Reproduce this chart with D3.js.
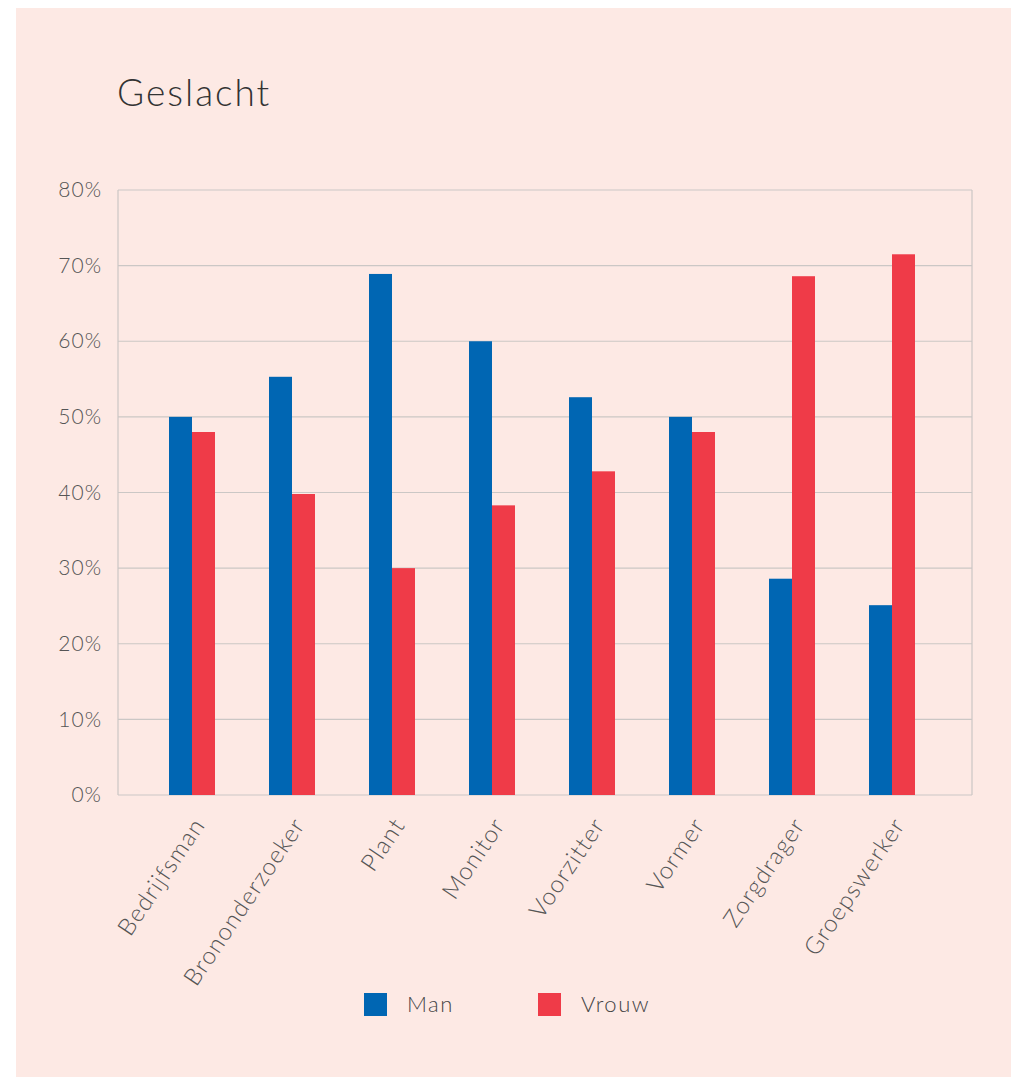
<!DOCTYPE html>
<html>
<head>
<meta charset="utf-8">
<script src="https://cdn.jsdelivr.net/npm/d3@7"></script>
<style>
  body { margin: 0; background: #fff; }
  svg { display: block; }
  text { font-family: "Lato", "Open Sans", sans-serif; }
</style>
</head>
<body>
<svg id="chart"></svg>
<script>
// data
let categories = ["Bedrijfsman", "Brononderzoeker", "Plant", "Monitor", "Voorzitter", "Vormer", "Zorgdrager", "Groepswerker"]
let man   = [50, 55.3, 68.9, 60, 52.6, 50, 28.6, 25.1]
let vrouw = [48, 39.8, 30, 38.3, 42.8, 48, 68.6, 71.5]
let series = ["Man", "Vrouw"]
let yTicks = [0, 10, 20, 30, 40, 50, 60, 70, 80]

let colors = { Man: "#0066b3", Vrouw: "#ef3b48" }

let svgWidth = 1011
let svgHeight = 1077

let svg = d3.select('#chart')
  .attr("width", svgWidth)
  .attr("height", svgHeight)

// pink panel
svg.append("rect")
  .attr("x", 16).attr("y", 8)
  .attr("width", svgWidth - 16).attr("height", svgHeight - 8)
  .attr("fill", "#fde9e4")

svg.append("text")
  .attr("x", 117).attr("y", 106)
  .attr("font-size", 37)
  .attr("font-weight", 300)
  .attr("letter-spacing", 2)
  .attr("fill", "#333")
  .text("Geslacht")

let plotLeft = 118, plotRight = 972, plotTop = 190, plotBottom = 795

let x = d3.scaleBand()
  .domain(categories)
  .range([142, 942])
  .paddingInner(0)

let y = d3.scaleLinear()
  .domain([0, 80])
  .range([plotBottom, plotTop])

// grid
svg.append("g")
  .selectAll("line")
  .data(yTicks)
  .enter()
  .append("line")
  .attr("x1", plotLeft).attr("x2", plotRight)
  .attr("y1", d => y(d)).attr("y2", d => y(d))
  .attr("stroke", "#cbc7c5")
  .attr("stroke-width", 1.2)

// frame sides
svg.append("line")
  .attr("x1", plotLeft).attr("x2", plotLeft)
  .attr("y1", plotTop).attr("y2", plotBottom)
  .attr("stroke", "#cbc7c5").attr("stroke-width", 1.2)
svg.append("line")
  .attr("x1", plotRight).attr("x2", plotRight)
  .attr("y1", plotTop).attr("y2", plotBottom)
  .attr("stroke", "#cbc7c5").attr("stroke-width", 1.2)

// y axis labels
let yAxis = d3.axisLeft(y).tickValues(yTicks).tickFormat(d => d + "%").tickSize(0).tickPadding(16)
let yg = svg.append("g").attr("transform", "translate(" + plotLeft + ",0)").call(yAxis)
yg.select(".domain").remove()
yg.selectAll("text")
  .attr("font-size", 21)
  .attr("font-weight", 300)
  .attr("letter-spacing", 1)
  .attr("fill", "#555")
  .attr("font-family", "Lato, 'Open Sans', sans-serif")

// bars
let barW = 23
let groups = svg.append("g")
  .selectAll("g")
  .data(categories)
  .enter()
  .append("g")
  .attr("transform", d => "translate(" + (x(d) + x.bandwidth() / 2) + ",0)")

groups.append("rect")
  .attr("x", -barW)
  .attr("width", barW)
  .attr("y", (d, i) => y(man[i]))
  .attr("height", (d, i) => y(0) - y(man[i]))
  .attr("fill", colors.Man)

groups.append("rect")
  .attr("x", 0)
  .attr("width", barW)
  .attr("y", (d, i) => y(vrouw[i]))
  .attr("height", (d, i) => y(0) - y(vrouw[i]))
  .attr("fill", colors.Vrouw)

// x labels
let xAxis = d3.axisBottom(x).tickSize(0).tickPadding(0)
let xg = svg.append("g").attr("transform", "translate(0," + plotBottom + ")").call(xAxis)
xg.select(".domain").remove()
xg.selectAll("text")
  .attr("font-size", 24)
  .attr("font-weight", 300)
  .attr("letter-spacing", 1.2)
  .attr("fill", "#555")
  .attr("font-family", "Lato, 'Open Sans', sans-serif")
  .attr("text-anchor", "end")
  .attr("dy", 0)
  .attr("transform", "translate(14,30) rotate(-56)")

// legend
let legendX = [364, 538]
let legend = svg.append("g")
  .selectAll("g")
  .data(series)
  .enter()
  .append("g")
  .attr("transform", (d, i) => "translate(" + legendX[i] + ",993)")

legend.append("rect")
  .attr("width", 23).attr("height", 23)
  .attr("fill", d => colors[d])

legend.append("text")
  .attr("x", 43).attr("y", 19)
  .attr("font-size", 22)
  .attr("font-weight", 300)
  .attr("letter-spacing", 1.5)
  .attr("fill", "#444")
  .text(d => d)
</script>
</body>
</html>
